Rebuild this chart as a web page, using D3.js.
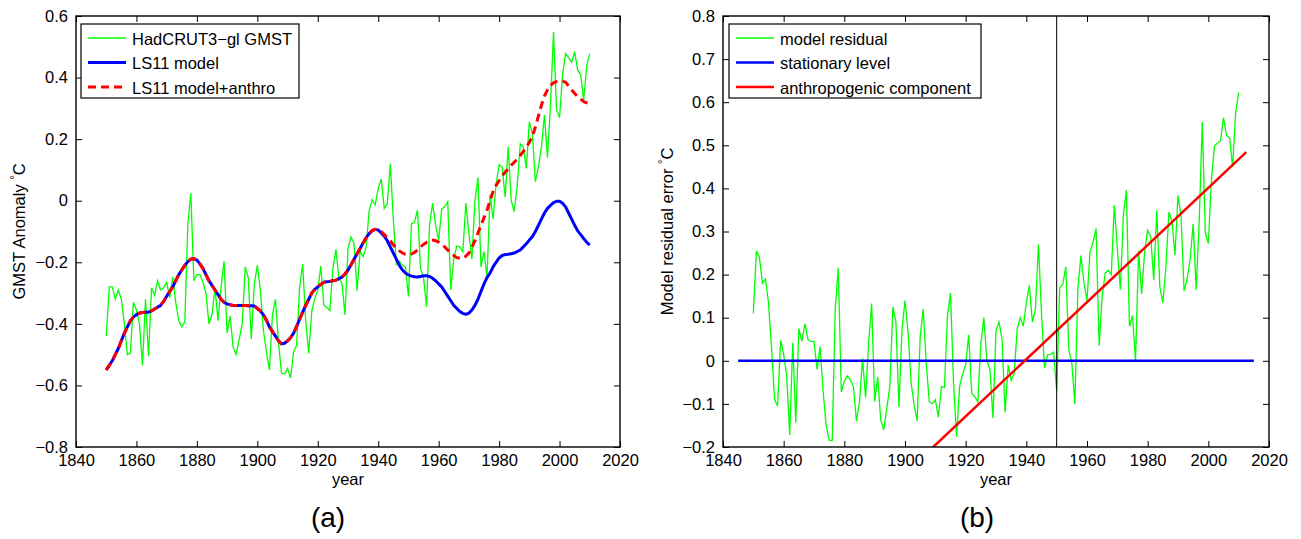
<!DOCTYPE html>
<html>
<head>
<meta charset="utf-8">
<script src="https://cdn.jsdelivr.net/npm/d3@7"></script>
<style>
  body { margin: 0; background: #fff; }
  svg text { font-family: "Liberation Sans", Arial, Helvetica, sans-serif; fill: #000; }
  .tick line { stroke: #000; stroke-width: 1; }
</style>
</head>
<body>
<svg id="chart" width="1301" height="539"></svg>
<script>
// years 1850..2010, one value per year
const years = d3.range(1850, 2011);

// HadCRUT3-gl GMST anomaly
const hadcrut = [
  -0.44, -0.28, -0.28, -0.32, -0.29, -0.32, -0.40, -0.50, -0.495, -0.33,
  -0.355, -0.40, -0.535, -0.32, -0.505, -0.283, -0.307, -0.26, -0.29, -0.282,
  -0.265, -0.315, -0.247, -0.33, -0.39, -0.409, -0.395, -0.078, 0.025, -0.26,
  -0.24, -0.24, -0.265, -0.30, -0.40, -0.37, -0.285, -0.39, -0.28, -0.197,
  -0.43, -0.375, -0.477, -0.50, -0.45, -0.40, -0.215, -0.25, -0.45, -0.27,
  -0.21, -0.29, -0.42, -0.49, -0.55, -0.37, -0.32, -0.46, -0.56, -0.563,
  -0.545, -0.576, -0.49, -0.47, -0.28, -0.205, -0.39, -0.496, -0.36, -0.318,
  -0.29, -0.212, -0.34, -0.346, -0.357, -0.22, -0.158, -0.253, -0.268, -0.371,
  -0.155, -0.118, -0.14, -0.292, -0.165, -0.182, -0.15, -0.032, 0.003, -0.013,
  0.04, 0.07, -0.025, -0.01, 0.12, -0.06, -0.207, -0.196, -0.21, -0.215,
  -0.311, -0.075, -0.07, -0.03, -0.22, -0.25, -0.345, -0.078, -0.008, -0.08,
  -0.13, -0.027, -0.02, -0.003, -0.29, -0.19, -0.147, -0.15, -0.166, -0.008,
  -0.105, -0.19, 0.0, 0.076, -0.215, -0.165, -0.25, 0.02, -0.06, 0.053,
  0.117, 0.11, 0.012, 0.175, 0.0, -0.035, 0.05, 0.185, 0.175, 0.105,
  0.256, 0.218, 0.062, 0.11, 0.175, 0.278, 0.14, 0.31, 0.548, 0.295,
  0.27, 0.41, 0.478, 0.465, 0.45, 0.484, 0.424, 0.408, 0.327, 0.44,
  0.478
];

// LS11 model (blue)
const ls11 = [
  -0.55, -0.535, -0.52, -0.50, -0.48, -0.455, -0.43, -0.41, -0.39, -0.378,
  -0.37, -0.365, -0.363, -0.362, -0.362, -0.358, -0.352, -0.346, -0.34, -0.327,
  -0.31, -0.295, -0.28, -0.26, -0.24, -0.225, -0.21, -0.198, -0.19, -0.188,
  -0.193, -0.205, -0.22, -0.24, -0.26, -0.275, -0.29, -0.305, -0.32, -0.33,
  -0.335, -0.338, -0.34, -0.34, -0.34, -0.34, -0.34, -0.341, -0.341, -0.342,
  -0.35, -0.358, -0.37, -0.388, -0.41, -0.425, -0.44, -0.455, -0.465, -0.463,
  -0.455, -0.445, -0.43, -0.408, -0.385, -0.362, -0.34, -0.32, -0.30, -0.288,
  -0.28, -0.272, -0.265, -0.263, -0.262, -0.26, -0.258, -0.253, -0.248, -0.238,
  -0.225, -0.208, -0.19, -0.172, -0.155, -0.137, -0.12, -0.107, -0.097, -0.093,
  -0.095, -0.105, -0.115, -0.13, -0.15, -0.17, -0.19, -0.21, -0.225, -0.235,
  -0.241, -0.245, -0.247, -0.248, -0.246, -0.244, -0.244, -0.246, -0.252, -0.26,
  -0.27, -0.28, -0.295, -0.31, -0.325, -0.34, -0.35, -0.36, -0.366, -0.369,
  -0.365, -0.355, -0.34, -0.32, -0.295, -0.27, -0.25, -0.235, -0.215, -0.20,
  -0.186, -0.178, -0.175, -0.174, -0.172, -0.17, -0.165, -0.16, -0.15, -0.14,
  -0.128, -0.117, -0.10, -0.08, -0.06, -0.04, -0.025, -0.015, -0.006, -0.002,
  -0.002, -0.008, -0.02, -0.04, -0.06, -0.08, -0.098, -0.11, -0.123, -0.135,
  -0.144
];

// LS11 model + anthro (red dashed)
const ls11Anthro = [
  -0.55, -0.535, -0.52, -0.50, -0.48, -0.455, -0.43, -0.41, -0.39, -0.378,
  -0.37, -0.365, -0.363, -0.362, -0.362, -0.358, -0.352, -0.346, -0.34, -0.327,
  -0.31, -0.295, -0.28, -0.26, -0.24, -0.225, -0.21, -0.198, -0.19, -0.188,
  -0.193, -0.205, -0.22, -0.24, -0.26, -0.275, -0.29, -0.305, -0.32, -0.33,
  -0.335, -0.338, -0.34, -0.34, -0.34, -0.34, -0.34, -0.341, -0.341, -0.342,
  -0.35, -0.358, -0.37, -0.388, -0.41, -0.425, -0.44, -0.455, -0.465, -0.463,
  -0.455, -0.445, -0.43, -0.408, -0.385, -0.362, -0.34, -0.32, -0.30, -0.288,
  -0.28, -0.272, -0.265, -0.263, -0.262, -0.26, -0.258, -0.253, -0.248, -0.238,
  -0.225, -0.208, -0.19, -0.172, -0.155, -0.137, -0.12, -0.107, -0.097, -0.093,
  -0.095, -0.10, -0.11, -0.12, -0.13, -0.143, -0.155, -0.163, -0.17, -0.174,
  -0.176, -0.173, -0.168, -0.16, -0.15, -0.142, -0.135, -0.13, -0.128, -0.13,
  -0.135, -0.142, -0.15, -0.16, -0.17, -0.178, -0.185, -0.187, -0.187, -0.18,
  -0.17, -0.152, -0.13, -0.105, -0.08, -0.055, -0.03, 0.0, 0.03, 0.05,
  0.065, 0.08, 0.093, 0.103, 0.115, 0.125, 0.135, 0.147, 0.16, 0.172,
  0.19, 0.208, 0.24, 0.275, 0.31, 0.34, 0.36, 0.375, 0.383, 0.387,
  0.388, 0.388, 0.385, 0.372, 0.36, 0.348, 0.338, 0.33, 0.322, 0.318,
  0.316
];

// model residual
const residual = [
  0.11, 0.255, 0.24, 0.18, 0.19, 0.135, 0.03, -0.09, -0.105, 0.048,
  0.015, -0.035, -0.172, 0.042, -0.143, 0.075, 0.045, 0.086, 0.05, 0.045,
  0.045, -0.02, 0.033, -0.07, -0.15, -0.184, -0.185, 0.12, 0.215, -0.072,
  -0.047, -0.035, -0.045, -0.06, -0.14, -0.095, 0.005, -0.085, 0.04, 0.133,
  -0.095, -0.037, -0.137, -0.16, -0.11, -0.06, 0.125, 0.09, -0.108, 0.072,
  0.14, 0.068, -0.05, -0.102, -0.14, 0.055, 0.12, -0.005, -0.095, -0.10,
  -0.09, -0.131, -0.06, -0.062, 0.105, 0.157, -0.05, -0.176, -0.06, -0.03,
  -0.01, 0.06, -0.075, -0.083, -0.095, 0.04, 0.10, 0.0, -0.02, -0.133,
  0.07, 0.09, 0.05, -0.12, -0.01, -0.045, -0.03, 0.075, 0.10, 0.08,
  0.135, 0.175, 0.09, 0.12, 0.27, 0.11, -0.017, 0.014, 0.015, 0.02,
  -0.07, 0.17, 0.177, 0.218, 0.026, -0.006, -0.10, 0.168, 0.244, 0.18,
  0.14, 0.253, 0.275, 0.307, 0.035, 0.15, 0.203, 0.21, 0.20, 0.361,
  0.26, 0.165, 0.34, 0.396, 0.08, 0.105, 0.0, 0.255, 0.155, 0.253,
  0.303, 0.288, 0.187, 0.349, 0.172, 0.135, 0.215, 0.345, 0.325, 0.245,
  0.384, 0.335, 0.162, 0.19, 0.235, 0.318, 0.165, 0.325, 0.554, 0.297,
  0.272, 0.418, 0.498, 0.505, 0.51, 0.564, 0.522, 0.518, 0.45, 0.575,
  0.622
];

// stationary level and anthropogenic trend in (b): [year, value]
const stationary = [[1845, 0], [2015, 0]];
const anthroTrend = [[1909.3, -0.2], [2012.5, 0.484]];
const splitYear = 1950;

const xTicks = [1840, 1860, 1880, 1900, 1920, 1940, 1960, 1980, 2000, 2020];
const yTicksA = [-0.8, -0.6, -0.4, -0.2, 0, 0.2, 0.4, 0.6];
const yTicksB = [-0.2, -0.1, 0, 0.1, 0.2, 0.3, 0.4, 0.5, 0.6, 0.7, 0.8];

const legendA = [
  {label: "HadCRUT3\u2212gl GMST", color: "#00ff00", width: 1.3, dash: null},
  {label: "LS11 model", color: "#0000ff", width: 3, dash: null},
  {label: "LS11 model+anthro", color: "#ff0000", width: 3, dash: "8,5"}
];
const legendB = [
  {label: "model residual", color: "#00ff00", width: 1.3, dash: null},
  {label: "stationary level", color: "#0000ff", width: 2.5, dash: null},
  {label: "anthropogenic component", color: "#ff0000", width: 2.5, dash: null}
];

const svg = d3.select("#chart");
const fontSize = 16.5;
const fmt = (d) => d === 0 ? "0" : (d < 0 ? "\u2212" + d3.format(".1f")(-d) : d3.format(".1f")(d));

function makePanel(opt) {
  const x = d3.scaleLinear().domain([1840, 2020]).range([opt.left, opt.right]);
  const y = d3.scaleLinear().domain(opt.yDomain).range([opt.bottom, opt.top]);
  const g = svg.append("g");

  // ticks on all four sides, pointing inward
  g.append("g").attr("transform", `translate(0,${opt.bottom})`)
    .call(d3.axisBottom(x).tickValues(xTicks).tickFormat(d3.format("d"))
      .tickSizeInner(-6).tickSizeOuter(0).tickPadding(7))
    .call((a) => a.select(".domain").remove())
    .selectAll("text").attr("font-size", fontSize);
  g.append("g").attr("transform", `translate(0,${opt.top})`)
    .call(d3.axisTop(x).tickValues(xTicks).tickFormat("").tickSizeInner(-6).tickSizeOuter(0))
    .call((a) => a.select(".domain").remove());
  g.append("g").attr("transform", `translate(${opt.left},0)`)
    .call(d3.axisLeft(y).tickValues(opt.yTicks).tickFormat(fmt)
      .tickSizeInner(-6).tickSizeOuter(0).tickPadding(8))
    .call((a) => a.select(".domain").remove())
    .selectAll("text").attr("font-size", fontSize);
  g.append("g").attr("transform", `translate(${opt.right},0)`)
    .call(d3.axisRight(y).tickValues(opt.yTicks).tickFormat("").tickSizeInner(-6).tickSizeOuter(0))
    .call((a) => a.select(".domain").remove());

  g.selectAll(".tick text").attr("fill", "#000");

  // axis labels
  g.append("text")
    .attr("x", (opt.left + opt.right) / 2).attr("y", 485)
    .attr("text-anchor", "middle").attr("font-size", fontSize)
    .text("year");

  const yl = g.append("text")
    .attr("transform", `translate(${opt.yLabelX},${(opt.top + opt.bottom) / 2}) rotate(-90)`)
    .attr("text-anchor", "middle").attr("font-size", fontSize);
  yl.append("tspan").text(opt.yLabel + " ");
  yl.append("tspan").attr("font-size", 11).attr("dy", -7).text("\u00b0");
  yl.append("tspan").attr("dy", 7).text("C");

  g.append("text")
    .attr("x", opt.tagX).attr("y", 527)
    .attr("text-anchor", "middle").attr("font-size", 28)
    .text(opt.tag);

  const clipId = "clip" + opt.tag.replace(/\W/g, "");
  svg.append("clipPath").attr("id", clipId).append("rect")
    .attr("x", opt.left).attr("y", opt.top)
    .attr("width", opt.right - opt.left).attr("height", opt.bottom - opt.top);
  const plot = g.append("g").attr("clip-path", `url(#${clipId})`);

  return {x, y, g, plot};
}

function drawLegend(g, items, box) {
  g.append("rect")
    .attr("x", box.x).attr("y", box.y).attr("width", box.w).attr("height", box.h)
    .attr("fill", "#fff").attr("stroke", "#000").attr("stroke-width", 1.2);
  items.forEach((it, i) => {
    const cy = box.y + 14 + i * 24.5;
    g.append("line")
      .attr("x1", box.x + 7).attr("x2", box.x + 45)
      .attr("y1", cy).attr("y2", cy)
      .attr("stroke", it.color).attr("stroke-width", it.width)
      .attr("stroke-dasharray", it.dash);
    g.append("text")
      .attr("x", box.x + 51).attr("y", cy + 6.5)
      .attr("font-size", fontSize)
      .text(it.label);
  });
}

// ---- panel (a) ----
const A = makePanel({
  left: 76, right: 620, top: 16, bottom: 447,
  yDomain: [-0.8, 0.6], yTicks: yTicksA,
  yLabel: "GMST Anomaly", yLabelX: 25, tag: "(a)", tagX: 328
});

const lineA = (vals) => d3.line().x((d, i) => A.x(years[i])).y((d) => A.y(d))(vals);

A.plot.append("path").attr("d", lineA(hadcrut))
  .attr("fill", "none").attr("stroke", "#00ff00").attr("stroke-width", 1.3);
A.plot.append("path").attr("d", lineA(ls11))
  .attr("fill", "none").attr("stroke", "#0000ff").attr("stroke-width", 3)
  .attr("stroke-linejoin", "round");
A.plot.append("path").attr("d", lineA(ls11Anthro))
  .attr("fill", "none").attr("stroke", "#ff0000").attr("stroke-width", 3)
  .attr("stroke-dasharray", "8,5");

A.g.append("rect")
  .attr("x", 76).attr("y", 16).attr("width", 544).attr("height", 431)
  .attr("fill", "none").attr("stroke", "#000").attr("stroke-width", 1.4);

drawLegend(A.g, legendA, {x: 81, y: 24, w: 218, h: 74});

// ---- panel (b) ----
const B = makePanel({
  left: 723, right: 1269, top: 16, bottom: 447,
  yDomain: [-0.2, 0.8], yTicks: yTicksB,
  yLabel: "Model residual error", yLabelX: 673, tag: "(b)", tagX: 977
});

B.plot.append("path")
  .attr("d", d3.line().x((d, i) => B.x(years[i])).y((d) => B.y(d))(residual))
  .attr("fill", "none").attr("stroke", "#00ff00").attr("stroke-width", 1.3);
B.plot.append("path")
  .attr("d", d3.line().x((d) => B.x(d[0])).y((d) => B.y(d[1]))(stationary))
  .attr("fill", "none").attr("stroke", "#0000ff").attr("stroke-width", 2.5);
B.plot.append("path")
  .attr("d", d3.line().x((d) => B.x(d[0])).y((d) => B.y(d[1]))(anthroTrend))
  .attr("fill", "none").attr("stroke", "#ff0000").attr("stroke-width", 2.5);
B.plot.append("line")
  .attr("x1", B.x(splitYear)).attr("x2", B.x(splitYear))
  .attr("y1", 16).attr("y2", 447)
  .attr("stroke", "#000").attr("stroke-width", 1);

B.g.append("rect")
  .attr("x", 723).attr("y", 16).attr("width", 546).attr("height", 431)
  .attr("fill", "none").attr("stroke", "#000").attr("stroke-width", 1.4);

drawLegend(B.g, legendB, {x: 729, y: 24, w: 252, h: 74});
</script>
</body>
</html>
